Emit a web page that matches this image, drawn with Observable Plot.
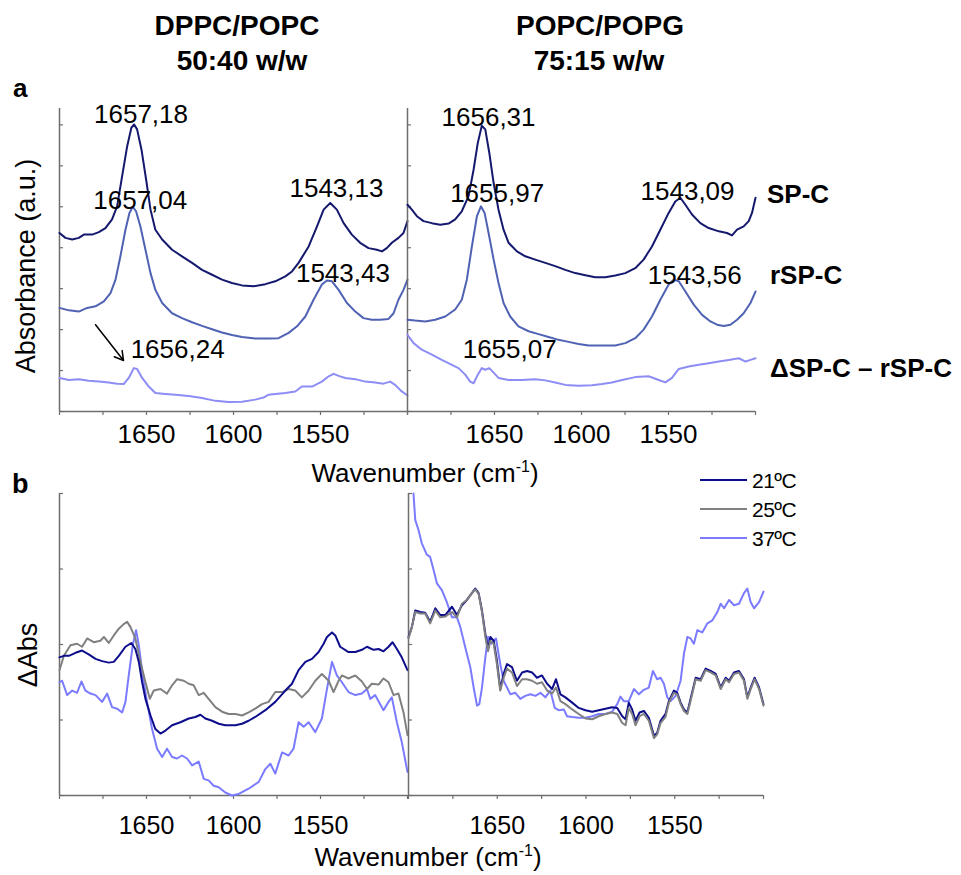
<!DOCTYPE html>
<html><head><meta charset="utf-8">
<script src="https://cdn.jsdelivr.net/npm/d3@7"></script>
<script src="https://cdn.jsdelivr.net/npm/@observablehq/plot@0.6"></script>
<style>
body{margin:0;background:#fff;}
#fig{position:relative;width:961px;height:875px;overflow:hidden;font-family:"Liberation Sans",Arial,Helvetica,sans-serif;}
#fig svg.panel{position:absolute;overflow:visible;}
#fig svg.overlay{position:absolute;left:0;top:0;}
</style></head>
<body><div id="fig"></div>
<script>
// ---------------- DATA ----------------
const xTickValues = [1700, 1675, 1650, 1625, 1600, 1575, 1550, 1525, 1500];
const xTickLabels = [1650, 1600, 1550];
const yTicksTop = [0, 1, 2, 3, 4, 5, 6, 7];
const yTicksBottom = [0, 1, 2, 3, 4];

// (a) DPPC/POPC 50:40
const tlSpcW = [1700,1696.6,1692.7,1688.9,1686,1681.2,1677.4,1673.6,1669.8,1666.9,1664,1661.1,1658.7,1657.1,1655.4,1652.9,1650.2,1647.7,1644.9,1641,1635.3,1629.6,1623.8,1618.1,1612.3,1606.6,1600.9,1595.1,1588.4,1581.7,1576,1570.2,1566.4,1562.6,1556.8,1552,1548.2,1544.4,1540.6,1536.7,1532,1527.2,1522.4,1517.6,1514.7,1511.9,1509,1505.2,1502.3,1500];
const tlSpcA = [4.36,4.24,4.20,4.24,4.32,4.32,4.38,4.48,4.69,5.01,5.75,6.48,6.93,7.01,6.89,6.40,5.66,4.93,4.44,4.20,3.95,3.79,3.63,3.46,3.34,3.22,3.14,3.08,3.06,3.11,3.18,3.30,3.42,3.63,4.03,4.52,4.93,5.09,4.93,4.60,4.32,4.12,3.99,3.95,3.91,3.99,4.12,4.24,4.36,4.65];
const tlRspcW = [1700,1694.6,1688.9,1684.1,1679.3,1674.5,1670.7,1667.8,1665,1662.1,1659.8,1657.9,1656,1653.5,1650.6,1647.7,1644.9,1641,1635.3,1629.6,1623.8,1618.1,1612.3,1606.6,1600.9,1595.1,1587.5,1579.8,1574.1,1568.3,1563.5,1558.7,1554,1549.2,1546.3,1543.4,1539.6,1534.8,1530,1525.3,1520.5,1515.7,1510.9,1508,1505.2,1502.3,1500];
const tlRspcA = [2.53,2.47,2.44,2.53,2.57,2.69,2.89,3.22,3.79,4.44,4.85,5.00,4.89,4.52,3.95,3.38,2.97,2.65,2.40,2.28,2.18,2.09,2.01,1.93,1.87,1.82,1.78,1.78,1.79,1.92,2.08,2.32,2.73,3.10,3.20,3.18,2.97,2.65,2.44,2.28,2.24,2.24,2.26,2.40,2.73,2.97,3.22];
const tlDiffW = [1700,1694.6,1688.9,1683.2,1677.4,1671.7,1666.9,1663.1,1660.2,1657.3,1655.4,1652.5,1648.7,1644.9,1639.1,1633.4,1625.7,1618.1,1610.4,1602.8,1595.1,1587.5,1582.7,1579.8,1576,1570.2,1564.5,1560.7,1554.9,1549.2,1545.3,1542.5,1539.6,1535.8,1530,1524.3,1518.6,1513.8,1510,1507.1,1503.3,1500];
const tlDiffA = [0.82,0.77,0.79,0.75,0.73,0.71,0.68,0.67,0.82,1.06,1.04,0.82,0.61,0.45,0.43,0.41,0.38,0.33,0.26,0.23,0.24,0.29,0.34,0.41,0.43,0.45,0.49,0.61,0.61,0.73,0.86,0.92,0.87,0.82,0.79,0.73,0.71,0.68,0.73,0.65,0.49,0.39];

// (a) POPC/POPG 75:15
const trSpcW = [1700,1697.5,1694.6,1690.8,1686,1681.2,1676.4,1672.6,1668.8,1664.9,1662,1659.6,1657.3,1655.3,1653,1650.5,1647.7,1644.8,1641.9,1637.1,1632.3,1626.6,1620.8,1615.1,1609.3,1603.6,1597.8,1592.1,1586.3,1580.6,1574.8,1569.1,1564.3,1559.5,1554.7,1549.9,1546.1,1543.2,1540.3,1536.5,1531.7,1526.9,1521.1,1516.4,1513.5,1510.6,1506.8,1503.9,1502,1500];
const trSpcA = [5.05,4.93,4.77,4.65,4.60,4.56,4.59,4.69,4.89,5.26,5.91,6.56,6.98,6.89,6.32,5.58,4.93,4.44,4.12,3.91,3.79,3.71,3.63,3.55,3.46,3.38,3.33,3.28,3.28,3.32,3.38,3.50,3.71,4.03,4.44,4.85,5.13,5.22,5.05,4.81,4.60,4.48,4.40,4.36,4.30,4.44,4.52,4.65,4.85,5.22];
const trRspcW = [1700,1695.6,1689.8,1684.1,1678.3,1672.6,1668.8,1665.9,1663,1660.1,1657.8,1655.7,1653.4,1650.5,1647.7,1644.8,1641,1636.2,1630.4,1624.7,1618.9,1613.2,1607.4,1601.7,1595.9,1588.2,1580.6,1574.8,1569.1,1564.3,1559.5,1554.7,1549.9,1547,1544.1,1540.3,1535.5,1530.7,1525.9,1522.1,1518.3,1514.4,1510.6,1506.8,1502.9,1500];
const trRspcA = [2.24,2.22,2.20,2.24,2.32,2.49,2.73,3.22,4.03,4.77,5.01,4.85,4.36,3.71,3.14,2.65,2.32,2.08,1.96,1.89,1.82,1.75,1.70,1.65,1.61,1.61,1.61,1.67,1.79,2.00,2.32,2.73,3.10,3.22,3.18,2.93,2.61,2.36,2.20,2.12,2.09,2.12,2.24,2.40,2.65,2.93];
const trDiffW = [1700,1696.5,1691.8,1686,1680.3,1674.5,1670.7,1666.8,1664,1662,1659.6,1657.3,1655.3,1653,1650.5,1647.7,1641.9,1634.2,1626.6,1620.8,1615.1,1609.3,1601.7,1594,1588.2,1582.5,1576.7,1569.1,1561.4,1555.6,1551.8,1548,1544.1,1538.4,1532.6,1526.9,1521.1,1515.4,1509.6,1505.7,1502.9,1500];
const trDiffA = [1.87,1.67,1.51,1.39,1.26,1.14,1.06,0.90,0.73,0.69,0.90,1.06,1.02,1.06,0.95,0.82,0.77,0.77,0.79,0.76,0.71,0.65,0.63,0.64,0.67,0.71,0.77,0.84,0.86,0.77,0.71,0.82,1.04,1.10,1.14,1.18,1.22,1.26,1.30,1.22,1.26,1.30];

// (b) DPPC/POPC temperature difference spectra
const bl21W = [1700,1697.5,1694.6,1690.8,1687,1683.2,1679.3,1675.5,1671.7,1668.8,1665.9,1662.1,1658.7,1656.4,1654.4,1652.5,1650.6,1647.7,1644.9,1642,1639.1,1635.3,1630.5,1625.7,1621.9,1619,1616.2,1612.3,1608.5,1604.7,1598.9,1595.1,1591.3,1587.5,1581.7,1576,1570.2,1566.4,1562.6,1558.7,1554.9,1551.1,1548.2,1546.3,1543.4,1541.5,1538.7,1533.9,1530,1526.2,1523.3,1519.5,1516.6,1513.8,1510.9,1508.6,1506.1,1503.3,1500];
const bl21A = [1.83,1.85,1.85,1.89,1.92,1.87,1.81,1.78,1.76,1.77,1.85,1.97,2.02,1.94,1.77,1.50,1.28,1.06,0.88,0.82,0.86,0.93,0.97,1.02,1.04,1.07,1.02,0.99,0.95,0.93,0.93,0.95,0.99,1.04,1.13,1.24,1.39,1.48,1.66,1.77,1.81,1.90,2.01,2.10,2.16,2.12,1.97,1.90,1.90,1.93,1.97,1.93,1.94,1.91,1.97,2.03,1.94,1.83,1.66];
const bl25W = [1700,1697.5,1693.7,1689.9,1687,1684.1,1680.3,1676.5,1674.5,1671.7,1668.8,1665.9,1663.1,1661.1,1659.2,1656.4,1653.5,1650.6,1648.1,1645.8,1642,1638.2,1635.3,1632.4,1628.6,1625.7,1622.9,1620,1617.1,1614.3,1610.4,1606.6,1602.8,1598.9,1595.1,1591.3,1587.5,1583.6,1579.8,1576,1572.1,1568.3,1564.5,1560.7,1556.8,1553,1549.2,1545.3,1542.5,1539.6,1537.7,1533.9,1530,1526.2,1523.3,1520.5,1516.6,1513.8,1510.9,1508,1505.2,1502.3,1500];
const bl25A = [1.66,1.85,1.99,2.01,1.97,2.08,2.03,2.05,2.10,2.02,2.12,2.21,2.27,2.30,2.23,2.08,1.77,1.50,1.28,1.39,1.41,1.35,1.46,1.54,1.52,1.48,1.46,1.33,1.36,1.28,1.17,1.11,1.08,1.08,1.06,1.10,1.15,1.21,1.24,1.37,1.37,1.41,1.39,1.30,1.39,1.52,1.61,1.52,1.37,1.52,1.59,1.55,1.59,1.51,1.41,1.48,1.47,1.55,1.50,1.33,1.35,1.10,0.80];
const bl37W = [1700,1698.5,1695.6,1692.7,1689.9,1687.4,1685.1,1682.2,1679.3,1675.5,1672.6,1669.8,1666.9,1664,1662.1,1660.2,1657.9,1656,1654.4,1652.2,1649.7,1646.8,1643.9,1641,1638.2,1635.3,1632.4,1629.6,1626.7,1623.8,1620,1617.1,1614.3,1611.4,1608.5,1604.7,1600.9,1597,1591.3,1585.5,1581.7,1578.8,1576,1572.1,1568.3,1565.5,1562.6,1559.7,1556.8,1553,1549.2,1546.3,1543.4,1540.6,1537.7,1533.9,1530,1526.2,1523.3,1521.4,1518.6,1513.8,1510.9,1509,1506.1,1503.3,1500];
const bl37A = [1.50,1.52,1.33,1.39,1.36,1.51,1.39,1.35,1.33,1.24,1.35,1.17,1.15,1.10,1.24,1.59,1.99,2.19,1.99,1.59,1.24,0.88,0.62,0.51,0.62,0.51,0.49,0.53,0.49,0.40,0.45,0.22,0.20,0.13,0.11,0.04,0.00,0.02,0.09,0.18,0.35,0.42,0.29,0.57,0.53,0.62,0.97,0.91,0.97,0.84,1.02,1.41,1.77,1.59,1.50,1.37,1.33,1.35,1.41,1.28,1.33,1.13,1.24,1.30,0.97,0.71,0.31];

// (b) POPC/POPG temperature difference spectra
const brW = [1700,1698.1,1696.2,1693.4,1690.6,1687.8,1684.9,1682.1,1679.3,1675.5,1672.7,1669.9,1667.1,1664.3,1662.4,1660.5,1658.6,1656.7,1655.2,1653.9,1652,1650.2,1648.3,1646.4,1644.5,1641.7,1638.9,1636,1633.2,1630.4,1627.6,1624.8,1621.9,1619.1,1616.9,1614.4,1611.6,1607.8,1604.1,1600.3,1596.5,1592.8,1589,1585.3,1582.4,1579.6,1577.7,1575.9,1574,1572.1,1569.8,1567.4,1564.6,1561.7,1559.9,1558,1555.2,1553.3,1550.5,1548.6,1546.7,1544.8,1542.9,1541.1,1538.2,1535.4,1532.6,1529.8,1526.9,1524.1,1521.3,1519.4,1516.6,1513.8,1511,1509.1,1507.2,1505,1502.5,1500];
const br21A = [2.10,2.23,2.45,2.43,2.42,2.30,2.48,2.39,2.39,2.50,2.39,2.52,2.59,2.68,2.74,2.68,2.45,2.14,1.94,2.10,2.05,1.79,1.41,1.61,1.74,1.70,1.52,1.63,1.65,1.63,1.56,1.59,1.48,1.41,1.54,1.34,1.30,1.23,1.16,1.13,1.11,1.13,1.15,1.17,1.16,1.05,1.01,1.23,1.14,0.99,1.10,1.12,1.03,0.79,0.83,0.99,1.08,1.25,1.39,1.36,1.23,1.14,1.10,1.28,1.56,1.54,1.68,1.65,1.61,1.43,1.56,1.52,1.63,1.65,1.54,1.30,1.43,1.56,1.43,1.21];
const br25A = [2.08,2.23,2.43,2.41,2.41,2.28,2.45,2.36,2.37,2.43,2.36,2.54,2.59,2.68,2.73,2.67,2.43,2.10,1.91,2.05,2.01,1.74,1.39,1.56,1.68,1.63,1.45,1.54,1.54,1.52,1.48,1.50,1.39,1.35,1.43,1.25,1.21,1.14,1.08,1.02,1.01,1.05,1.08,1.10,1.08,0.96,0.93,1.16,1.08,0.93,1.05,1.08,0.99,0.76,0.81,0.96,1.04,1.23,1.36,1.34,1.21,1.12,1.08,1.25,1.54,1.52,1.66,1.63,1.59,1.41,1.54,1.50,1.61,1.63,1.52,1.28,1.41,1.54,1.41,1.19];
const br37W = [1697.2,1696.2,1694.4,1692.5,1689.7,1687.8,1685.9,1684,1681.2,1678.4,1675.5,1672.7,1670.8,1668,1665.2,1663.3,1661.4,1660.1,1658.6,1656.7,1655.2,1653.4,1650.7,1648.3,1646.4,1644.5,1642.6,1639.8,1637,1634.2,1631.3,1628.5,1625.7,1622.9,1620.1,1617.6,1615.4,1612.5,1610.7,1607.8,1604.1,1600.3,1596.5,1592.8,1589,1585.3,1582.4,1580.6,1578.7,1575.9,1573,1570.2,1567.4,1564.6,1562.3,1559.9,1558,1556.1,1554.2,1552.3,1549.5,1546.7,1544.8,1542.9,1541.1,1539.2,1537.3,1534.5,1531.6,1528.8,1526,1524.1,1522.2,1519.4,1516.6,1513.8,1511,1509.1,1507.2,1505.3,1502.5,1500];
const br37A = [4.00,3.65,3.52,3.34,3.19,3.16,2.99,2.81,2.72,2.56,2.36,2.36,2.23,1.96,1.70,1.43,1.19,1.21,1.43,1.83,2.10,2.01,2.08,1.74,1.52,1.43,1.34,1.36,1.28,1.32,1.34,1.32,1.36,1.30,1.39,1.16,1.13,1.14,1.05,1.04,1.03,1.03,1.05,1.08,1.08,1.11,1.21,1.31,1.25,1.25,1.41,1.34,1.40,1.43,1.65,1.54,1.56,1.48,1.30,1.25,1.32,1.52,1.88,2.10,2.08,2.01,2.19,2.16,2.28,2.32,2.43,2.54,2.48,2.59,2.52,2.54,2.68,2.74,2.56,2.48,2.56,2.70];

// peak annotations (text of the labels; position taken from the label value)
const tlAnnLabels = ["1657,18", "1543,13", "1657,04", "1543,43", "1656,24"];
const tlAnnSeries = ["SP-C", "SP-C", "rSP-C", "rSP-C", "diff"];
const trAnnLabels = ["1656,31", "1543,09", "1655,97", "1543,56", "1655,07"];
const trAnnSeries = ["SP-C", "SP-C", "rSP-C", "rSP-C", "diff"];

// ---------------- STYLE / LAYOUT ----------------
const FONT = '"Liberation Sans", Arial, Helvetica, sans-serif';
const AXIS = "#6e6e6e";
const C = {spc: "#15196e", rspc: "#4f62b3", diff: "#8d8df5", t21: "#0d0d8c", t25: "#808080", t37: "#7b7bff"};
const tlAnnOffset = [[7, -1], [4, -6], [6, 2], [11, 2], [42, -10]];
const trAnnOffset = [[5, 0], [7, 2], [13, -4], [15, 3], [24, -10]];
const tlArrow = [{x1: 1679.3, y1: 2.12, x2: 1663.2, y2: 1.245}];

const rows = (W, A) => W.map((w, i) => ({w, a: A[i]}));
const fig = document.getElementById("fig");

function makePanel(p) {
  const m = {l: 12, r: 12, t: 12, b: 60};
  const marks = [
    Plot.ruleX([1700], {stroke: AXIS, strokeWidth: 1.5}),
    Plot.ruleY([0], {stroke: AXIS, strokeWidth: 1.5}),
    Plot.axisX({ticks: xTickValues, tickSize: 4, tickFormat: () => "", stroke: AXIS, strokeWidth: 1.2, label: null}),
    Plot.axisX({ticks: xTickLabels, tickSize: 0, tickPadding: p.labelPad, fontSize: p.labelSize, tickFormat: d => String(d), label: null, fill: "#000"}),
    Plot.tickY(p.yTicks, {stroke: AXIS, strokeWidth: 1.2, insetRight: p.width - 4})
  ];
  for (const s of p.series) {
    marks.push(Plot.line(s.data, {x: "w", y: "a", stroke: s.color, strokeWidth: 2}));
  }
  (p.anns || []).forEach((an, i) => {
    const ser = p.series.find(s => s.key === an.series);
    const near = ser.data.filter(d => Math.abs(d.w - an.x) <= 3);
    const y = d3.max(near, d => d.a);
    marks.push(Plot.text([{x: an.x, y, t: an.label}], {x: "x", y: "y", text: "t", dx: an.dx, dy: an.dy,
      fontSize: 26, textAnchor: "middle", lineAnchor: "bottom", fill: "#000"}));
  });
  if (p.arrows) marks.push(Plot.arrow(p.arrows, {x1: "x1", y1: "y1", x2: "x2", y2: "y2", stroke: "#000", strokeWidth: 1.5, headLength: 10}));
  const chart = Plot.plot({
    width: p.width + m.l + m.r, height: p.height + m.t + m.b,
    marginLeft: m.l, marginRight: m.r, marginTop: m.t, marginBottom: m.b,
    style: {fontFamily: FONT, background: "transparent", overflow: "visible", color: "#000"},
    x: {domain: [1700, 1500], label: null},
    y: {domain: [0, p.yMax], axis: null, label: null},
    marks
  });
  chart.classList.add("panel");
  chart.style.left = (p.left - m.l) + "px";
  chart.style.top = (p.top - m.t) + "px";
  fig.appendChild(chart);
}

const annList = (labels, series, offs) => labels.map((label, i) => ({
  label, x: +label.replace(",", "."), series: series[i], dx: offs[i][0], dy: offs[i][1]
}));

makePanel({left: 59, top: 108, width: 348, height: 303, yMax: 7.4, yTicks: yTicksTop, labelSize: 26, labelPad: 13,
  series: [
    {key: "SP-C", data: rows(tlSpcW, tlSpcA), color: C.spc},
    {key: "rSP-C", data: rows(tlRspcW, tlRspcA), color: C.rspc},
    {key: "diff", data: rows(tlDiffW, tlDiffA), color: C.diff}
  ],
  anns: annList(tlAnnLabels, tlAnnSeries, tlAnnOffset), arrows: tlArrow});

makePanel({left: 407, top: 108, width: 348, height: 303, yMax: 7.4, yTicks: yTicksTop, labelSize: 26, labelPad: 13,
  series: [
    {key: "SP-C", data: rows(trSpcW, trSpcA), color: C.spc},
    {key: "rSP-C", data: rows(trRspcW, trRspcA), color: C.rspc},
    {key: "diff", data: rows(trDiffW, trDiffA), color: C.diff}
  ],
  anns: annList(trAnnLabels, trAnnSeries, trAnnOffset)});

makePanel({left: 59, top: 493, width: 348, height: 302, yMax: 4, yTicks: yTicksBottom, labelSize: 25, labelPad: 21,
  series: [
    {key: "37", data: rows(bl37W, bl37A), color: C.t37},
    {key: "25", data: rows(bl25W, bl25A), color: C.t25},
    {key: "21", data: rows(bl21W, bl21A), color: C.t21}
  ]});

makePanel({left: 408, top: 493, width: 355, height: 302, yMax: 4, yTicks: yTicksBottom, labelSize: 25, labelPad: 21,
  series: [
    {key: "37", data: rows(br37W, br37A), color: C.t37},
    {key: "21", data: rows(brW, br21A), color: C.t21},
    {key: "25", data: rows(brW, br25A), color: C.t25}
  ]});

// ---------------- TEXT OVERLAY ----------------
const svg = d3.select(fig).append("svg").attr("class", "overlay")
  .attr("width", 961).attr("height", 875)
  .style("font-family", FONT);

function txt(x, y, s, o = {}) {
  const t = svg.append("text").attr("x", x).attr("y", y).text(s)
    .attr("font-size", o.size || 26).attr("font-weight", o.bold ? "bold" : "normal")
    .attr("text-anchor", o.anchor || "start").attr("fill", "#000");
  return t;
}
txt(237, 35, "DPPC/POPC", {bold: true, size: 28, anchor: "middle"});
txt(242, 70, "50:40 w/w", {bold: true, size: 28, anchor: "middle"});
txt(600, 35, "POPC/POPG", {bold: true, size: 28, anchor: "middle"});
txt(599, 70, "75:15 w/w", {bold: true, size: 28, anchor: "middle"});
txt(13, 97, "a", {bold: true, size: 26});
txt(12, 493, "b", {bold: true, size: 27});
txt(767, 203, "SP-C", {bold: true, size: 26});
txt(770, 284, "rSP-C", {bold: true, size: 26});
txt(770, 377, "ΔSP-C – rSP-C", {bold: true, size: 26});

svg.append("text").attr("transform", "translate(35,266) rotate(-90)")
  .attr("text-anchor", "middle").attr("font-size", 27).text("Absorbance (a.u.)");
svg.append("text").attr("transform", "translate(37,655) rotate(-90)")
  .attr("text-anchor", "middle").attr("font-size", 27).text("ΔAbs");

function wavTitle(cx, by) {
  const t = svg.append("text").attr("x", cx).attr("y", by).attr("text-anchor", "middle").attr("font-size", 26);
  t.append("tspan").text("Wavenumber (cm");
  t.append("tspan").attr("font-size", 16).attr("dy", -10).text("-1");
  t.append("tspan").attr("dy", 10).text(")");
}
wavTitle(425, 482);
wavTitle(428, 866);

// legend
const legend = [["21ºC", C.t21, 480], ["25ºC", C.t25, 509], ["37ºC", C.t37, 538]];
for (const [lab, col, y] of legend) {
  svg.append("line").attr("x1", 700).attr("x2", 747).attr("y1", y).attr("y2", y)
    .attr("stroke", col).attr("stroke-width", 2.2);
  txt(752, y + 8, lab, {size: 21}).attr("letter-spacing", -0.5);
}
</script>
</body></html>
